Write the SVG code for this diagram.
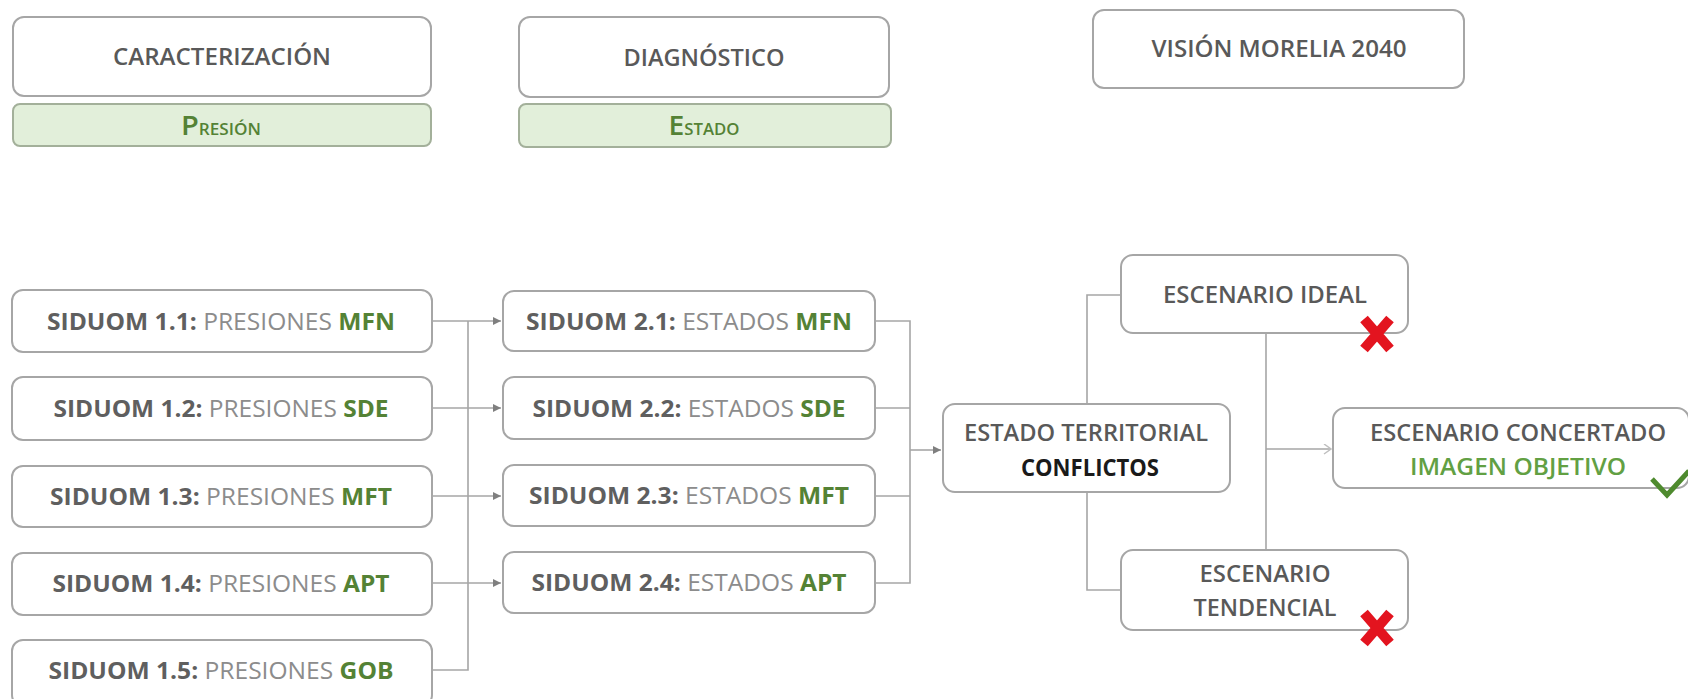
<svg xmlns="http://www.w3.org/2000/svg" width="1688" height="699" viewBox="0 0 1688 699">
<style>
.box{fill:#ffffff;stroke:#a6a6a6;stroke-width:2}
.bar{fill:#e2efda;stroke:#a3b09a;stroke-width:2}
.t{font-family:"Open Sans","Liberation Sans",sans-serif;font-size:24px;text-anchor:middle}
.h{fill:#595959;font-weight:600}
.b{fill:#5f5f5f;font-weight:700}
.r{fill:#8c8c8c;font-weight:400}
.g{fill:#548235;font-weight:700}
.k{fill:#1a1a1a;font-weight:700}
.ln{fill:none;stroke:#a6a6a6;stroke-width:1.6}
.x{stroke:#e3141f;stroke-width:10;fill:none}
</style>
<defs>
<marker id="ah" markerWidth="10" markerHeight="10" refX="8" refY="4" orient="auto" markerUnits="userSpaceOnUse">
<path d="M0,0 L8,4 L0,8 Z" fill="#7f7f7f"/>
</marker>
<marker id="oa" markerWidth="12" markerHeight="12" refX="8" refY="5" orient="auto" markerUnits="userSpaceOnUse">
<path d="M1,0 L8,5 L1,10" fill="none" stroke="#bfbfbf" stroke-width="1.5"/>
</marker>
</defs>
<rect width="1688" height="699" fill="#ffffff"/>

<g id="connectors">
<path class="ln" d="M432 670 H468 V321"/>
<path class="ln" d="M432 321 H501" marker-end="url(#ah)"/>
<path class="ln" d="M432 408 H501" marker-end="url(#ah)"/>
<path class="ln" d="M432 496 H501" marker-end="url(#ah)"/>
<path class="ln" d="M432 583 H501" marker-end="url(#ah)"/>
<path class="ln" d="M875 321 H910 V583 H875"/>
<path class="ln" d="M875 408 H910"/>
<path class="ln" d="M875 496 H910"/>
<path class="ln" d="M910 450 H941" marker-end="url(#ah)"/>
<path class="ln" d="M1121 295 H1087 V590 H1121"/>
<path class="ln" d="M1266 333 V550"/>
<path class="ln" d="M1266 449 H1331" stroke="#c8c8c8" marker-end="url(#oa)"/>
</g>

<g id="caracterizacion">
<rect class="box" x="13" y="17" width="418" height="79" rx="11"/>
<text class="t h" x="222" y="65" textLength="218" lengthAdjust="spacingAndGlyphs">CARACTERIZACIÓN</text>
</g>
<g id="presion">
<rect class="bar" x="13" y="104" width="418" height="42" rx="7"/>
<text class="t" x="221" y="135" fill="#548235" font-weight="600" textLength="80" lengthAdjust="spacingAndGlyphs"><tspan font-size="27px">P</tspan><tspan font-size="16px">RESIÓN</tspan></text>
</g>
<g id="diagnostico">
<rect class="box" x="519" y="17" width="370" height="80" rx="11"/>
<text class="t h" x="704" y="66" textLength="161" lengthAdjust="spacingAndGlyphs">DIAGNÓSTICO</text>
</g>
<g id="estado">
<rect class="bar" x="519" y="104" width="372" height="43" rx="7"/>
<text class="t" x="704" y="135" fill="#548235" font-weight="600" textLength="71" lengthAdjust="spacingAndGlyphs"><tspan font-size="27px">E</tspan><tspan font-size="16px">STADO</tspan></text>
</g>
<g id="vision">
<rect class="box" x="1093" y="10" width="371" height="78" rx="11"/>
<text class="t h" x="1279" y="57" textLength="255" lengthAdjust="spacingAndGlyphs">VISIÓN MORELIA 2040</text>
</g>

<g id="p11">
<rect class="box" x="12" y="290" width="420" height="62" rx="11"/>
<text class="t" x="221" y="330" textLength="348" lengthAdjust="spacingAndGlyphs"><tspan class="b">SIDUOM 1.1:</tspan><tspan class="r"> PRESIONES </tspan><tspan class="g">MFN</tspan></text>
</g>
<g id="p12">
<rect class="box" x="12" y="377" width="420" height="63" rx="11"/>
<text class="t" x="221" y="417" textLength="335" lengthAdjust="spacingAndGlyphs"><tspan class="b">SIDUOM 1.2:</tspan><tspan class="r"> PRESIONES </tspan><tspan class="g">SDE</tspan></text>
</g>
<g id="p13">
<rect class="box" x="12" y="466" width="420" height="61" rx="11"/>
<text class="t" x="221" y="505" textLength="342" lengthAdjust="spacingAndGlyphs"><tspan class="b">SIDUOM 1.3:</tspan><tspan class="r"> PRESIONES </tspan><tspan class="g">MFT</tspan></text>
</g>
<g id="p14">
<rect class="box" x="12" y="553" width="420" height="62" rx="11"/>
<text class="t" x="221" y="592" textLength="337" lengthAdjust="spacingAndGlyphs"><tspan class="b">SIDUOM 1.4:</tspan><tspan class="r"> PRESIONES </tspan><tspan class="g">APT</tspan></text>
</g>
<g id="p15">
<rect class="box" x="12" y="640" width="420" height="66" rx="11"/>
<text class="t" x="221" y="679" textLength="345" lengthAdjust="spacingAndGlyphs"><tspan class="b">SIDUOM 1.5:</tspan><tspan class="r"> PRESIONES </tspan><tspan class="g">GOB</tspan></text>
</g>

<g id="e21">
<rect class="box" x="503" y="291" width="372" height="60" rx="11"/>
<text class="t" x="689" y="330" textLength="326" lengthAdjust="spacingAndGlyphs"><tspan class="b">SIDUOM 2.1:</tspan><tspan class="r"> ESTADOS </tspan><tspan class="g">MFN</tspan></text>
</g>
<g id="e22">
<rect class="box" x="503" y="377" width="372" height="62" rx="11"/>
<text class="t" x="689" y="417" textLength="313" lengthAdjust="spacingAndGlyphs"><tspan class="b">SIDUOM 2.2:</tspan><tspan class="r"> ESTADOS </tspan><tspan class="g">SDE</tspan></text>
</g>
<g id="e23">
<rect class="box" x="503" y="465" width="372" height="61" rx="11"/>
<text class="t" x="689" y="504" textLength="320" lengthAdjust="spacingAndGlyphs"><tspan class="b">SIDUOM 2.3:</tspan><tspan class="r"> ESTADOS </tspan><tspan class="g">MFT</tspan></text>
</g>
<g id="e24">
<rect class="box" x="503" y="552" width="372" height="61" rx="11"/>
<text class="t" x="689" y="591" textLength="315" lengthAdjust="spacingAndGlyphs"><tspan class="b">SIDUOM 2.4:</tspan><tspan class="r"> ESTADOS </tspan><tspan class="g">APT</tspan></text>
</g>

<g id="estado-territorial">
<rect class="box" x="943" y="404" width="287" height="88" rx="12"/>
<text class="t h" x="1086" y="441" textLength="244" lengthAdjust="spacingAndGlyphs">ESTADO TERRITORIAL</text>
<text class="t k" x="1090" y="476" textLength="138" lengthAdjust="spacingAndGlyphs">CONFLICTOS</text>
</g>

<g id="escenario-ideal">
<rect class="box" x="1121" y="255" width="287" height="78" rx="12"/>
<text class="t h" x="1265" y="303" textLength="204" lengthAdjust="spacingAndGlyphs">ESCENARIO IDEAL</text>
<path class="x" d="M1364 319 L1390 349 M1390 319 L1364 349"/>
</g>

<g id="escenario-concertado">
<rect class="box" x="1333" y="408" width="356" height="80" rx="12"/>
<text class="t h" x="1518" y="441" textLength="296" lengthAdjust="spacingAndGlyphs">ESCENARIO CONCERTADO</text>
<text class="t" x="1518" y="475" fill="#62a043" font-weight="600" textLength="216" lengthAdjust="spacingAndGlyphs">IMAGEN OBJETIVO</text>
<path d="M1652 479 L1667 495 L1689 471" fill="none" stroke="#4e8a2e" stroke-width="5"/>
</g>

<g id="escenario-tendencial">
<rect class="box" x="1121" y="550" width="287" height="80" rx="12"/>
<text class="t h" x="1265" y="582" textLength="131" lengthAdjust="spacingAndGlyphs">ESCENARIO</text>
<text class="t h" x="1265" y="616" textLength="143" lengthAdjust="spacingAndGlyphs">TENDENCIAL</text>
<path class="x" d="M1364 613 L1390 643 M1390 613 L1364 643"/>
</g>
</svg>
